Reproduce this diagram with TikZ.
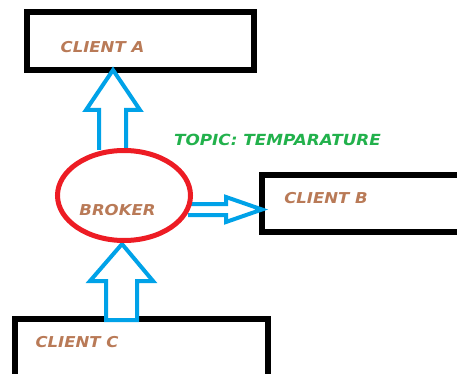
\documentclass[tikz,border=0pt]{standalone}
\usepackage{fontspec}
\setmainfont{DejaVu Sans}
\newfontfamily\widesans[FakeStretch=1.1]{DejaVu Sans}
\definecolor{boxtext}{HTML}{B97A57}
\definecolor{topicgreen}{HTML}{22B14C}
\definecolor{brokerred}{HTML}{ED1C24}
\definecolor{arrowblue}{HTML}{00A2E8}
\tikzset{
  clientbox/.style={draw=black, line width=6pt},
  label/.style={font=\widesans\fontsize{15}{17}\selectfont\bfseries\itshape, text=boxtext, inner sep=0pt},
  topic/.style={font=\widesans\fontsize{15.3}{17}\selectfont\bfseries\itshape, text=topicgreen, inner sep=0pt},
  blockarrow/.style={draw=arrowblue, line width=4pt, line join=miter, fill=white}
}
\begin{document}
\begin{tikzpicture}[x=1pt,y=-1pt]
\useasboundingbox (0,0) rectangle (457,374);
\begin{scope}
\clip (0,0) rectangle (457,374);
% client boxes (B and C run past the edge)
\draw[clientbox] (27,12) rectangle (254,70);
\draw[clientbox] (262,175) rectangle (480,231.5);
\draw[clientbox] (15,318.5) rectangle (268,400);
\end{scope}
% block arrows
\draw[blockarrow] (99,150) -- (99,110) -- (86,110) -- (113,70) -- (140,110) -- (126,110) -- (126,150);
\draw[blockarrow] (106,320) -- (106,281) -- (90,281) -- (122,244) -- (153,281) -- (137,281) -- (137,320) -- cycle;
\draw[blockarrow] (188,204) -- (226,204) -- (226,197) -- (262,209.5) -- (226,222) -- (226,215) -- (188,215);
% broker
\draw[draw=brokerred, line width=5pt] (124,195.5) ellipse [x radius=66.5, y radius=45];
% labels
\node[label] (a) at (102.5,47) {CLIENT A};
\node[label] (b) at (326,198) {CLIENT B};
\node[label] (c) at (77,342) {CLIENT C};
\node[label] (k) at (117.5,210) {BROKER};
\node[topic] (t) at (277.5,140) {TOPIC: TEMPARATURE};
\end{tikzpicture}
\end{document}
